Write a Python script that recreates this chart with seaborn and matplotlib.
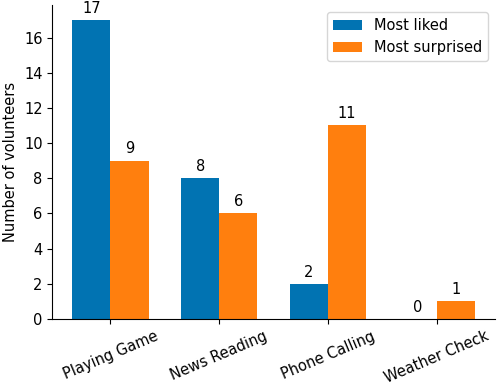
import matplotlib
matplotlib.use('Agg')
import matplotlib.pyplot as plt
import pandas as pd
import seaborn as sns

# data
activities = ['Playing Game', 'News Reading', 'Phone Calling', 'Weather Check']
most_liked = [17, 8, 2, 0]
most_surprised = [9, 6, 11, 1]
series = ['Most liked', 'Most surprised']
colors = ['#0173b2', '#ff7f0e']

df = pd.DataFrame({
    'activity': activities * 2,
    'count': most_liked + most_surprised,
    'series': [series[0]] * len(activities) + [series[1]] * len(activities),
})

plt.rcParams['font.family'] = ['DejaVu Sans']
plt.rcParams['font.size'] = 10

fig, ax = plt.subplots(figsize=(4.98, 3.87), dpi=100)
sns.barplot(data=df, x='activity', y='count', hue='series', order=activities,
            hue_order=series, palette=colors, width=0.7, saturation=1,
            linewidth=0, ax=ax)

# value labels on top of each bar
for container in ax.containers:
    ax.bar_label(container, padding=3, fontsize=10.5)

ax.set_xlim(-0.535, len(activities) - 1 + 0.535)
ax.set_ylim(0, 17 * 1.05)
ax.set_yticks([0, 2, 4, 6, 8, 10, 12, 14, 16])
ax.set_xlabel('')
ax.set_ylabel('Number of volunteers', fontsize=10.5)
ax.tick_params(labelsize=10.5)
plt.setp(ax.get_xticklabels(), rotation=23, ha='center')
ax.legend(title=None, loc='upper right', fontsize=10.5)
sns.despine()

plt.subplots_adjust(left=0.105, right=0.994, top=0.987, bottom=0.176)
plt.savefig('out.png', dpi=100)
